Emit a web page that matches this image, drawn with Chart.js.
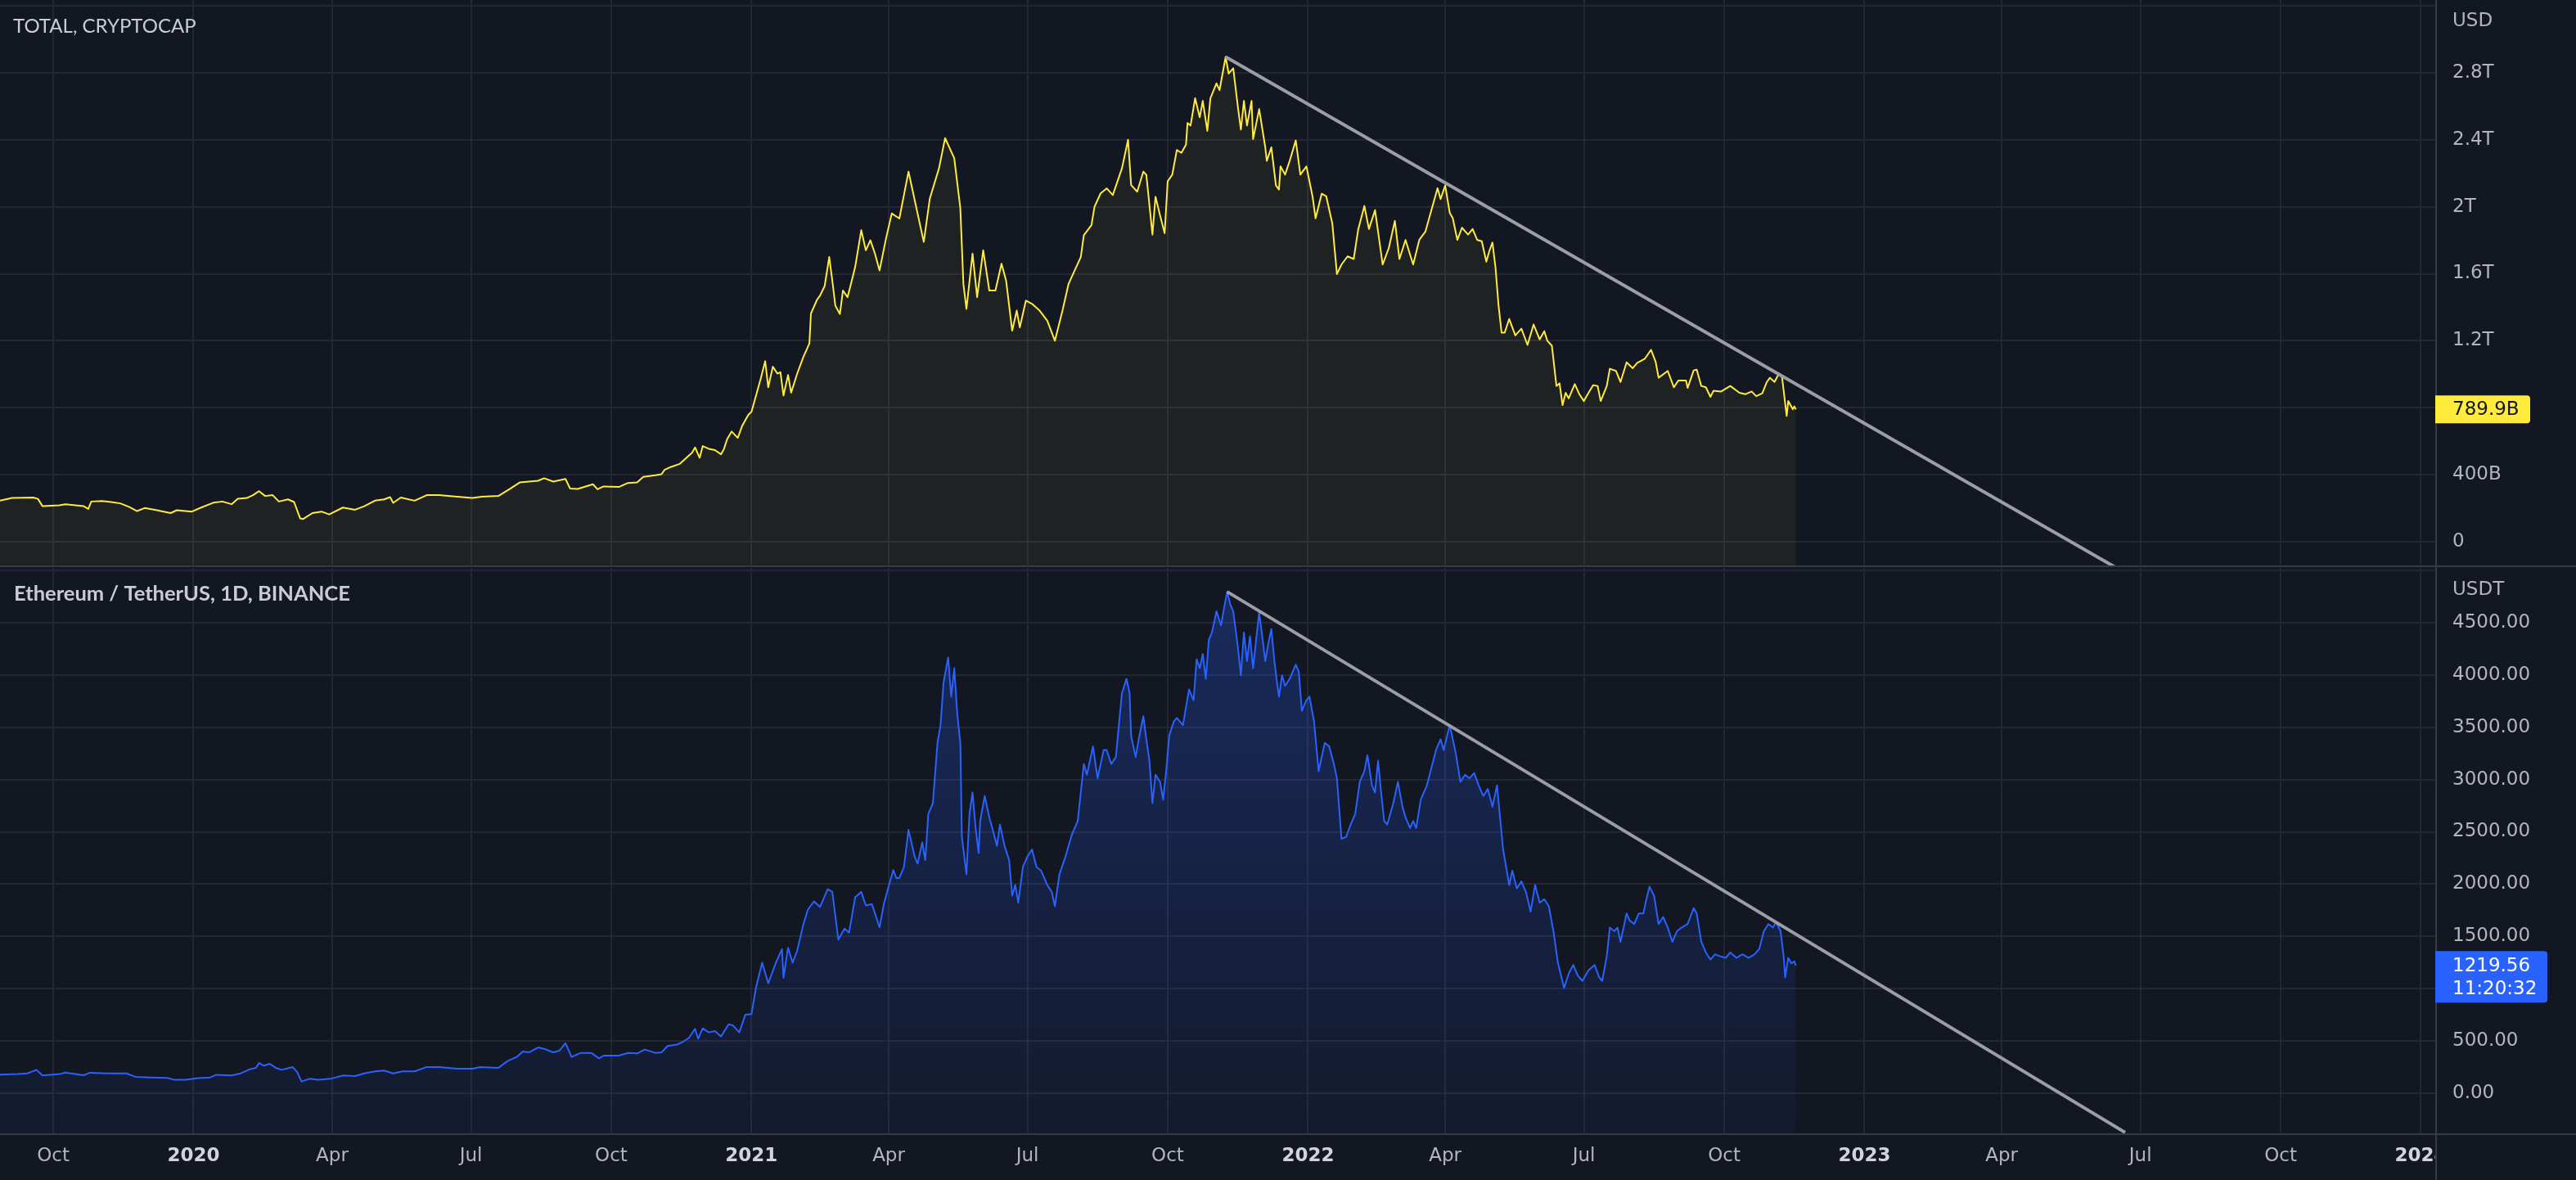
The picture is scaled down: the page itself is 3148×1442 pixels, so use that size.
<!DOCTYPE html>
<html>
<head>
<meta charset="utf-8">
<script src="https://cdn.jsdelivr.net/npm/chart.js@4.4.0/dist/chart.umd.min.js"></script>
<style>
  html, body { margin: 0; padding: 0; background: #131722; }
  #wrap { position: relative; width: 3148px; height: 1442px; overflow: hidden; background: #131722; }
  #c1 { position: absolute; left: 0; top: 0; }
  #c2 { position: absolute; left: 0; top: 693px; }
</style>
</head>
<body>
<div id="wrap">
  <canvas id="c1" width="3148" height="693"></canvas>
  <canvas id="c2" width="3148" height="749"></canvas>
</div>
<script>
// ---------------- DATA ----------------
// time is expressed in days since EPOCH
const EPOCH = '2019-10-01';
const viewStartDay = -34.9;   // left edge of the visible window (late Aug 2019)
const viewEndDay = 1562.4;    // right edge of the visible window (mid Jan 2024)

// TOTAL crypto market cap (billions USD)
const capDays = [
  -35,-27,-13,-10,-7,4,8,20,23,25,
  32,38,44,50,55,60,68,77,81,91,
  97,105,111,117,121,127,131,135,139,144,
  148,154,158,162,164,170,176,181,190,198,
  204,211,217,221,223,228,237,245,253,265,
  275,281,292,300,306,312,318,322,328,336,
  339,344,354,357,361,371,377,383,387,395,
  399,401,405,411,415,419,421,424,426,430,
  434,438,440,442,445,449,452,456,458,461,
  464,467,469,472,475,477,479,482,484,488,
  492,496,497,501,503,506,509,511,513,516,
  518,521,523,526,530,533,536,539,542,546,
  550,555,561,571,575,581,585,591,595,597,
  599,603,606,610,614,618,622,625,629,632,
  634,638,642,647,652,657,662,666,670,674,
  676,681,683,687,691,695,701,705,707,711,
  715,717,721,723,726,729,731,734,737,740,
  743,744,746,749,752,754,757,759,763,765,
  769,771,774,777,779,781,783,786,787,791,
  795,796,799,802,804,805,808,811,815,818,
  822,826,828,832,835,839,842,845,849,853,
  856,860,863,867,870,872,876,880,883,887,
  892,896,900,904,908,910,913,916,918,921,
  924,928,931,934,937,940,942,944,946,948,
  950,952,955,959,963,967,971,975,978,980,
  983,986,988,990,992,994,998,1001,1004,1006,
  1010,1013,1015,1019,1021,1025,1028,1032,1036,1039,
  1044,1048,1051,1053,1059,1063,1066,1071,1072,1076,
  1078,1081,1084,1087,1089,1094,1100,1106,1110,1114,
  1117,1121,1124,1126,1129,1132,1134,1137,1138,1141,
  1142,1143
];
const capValues = [
  245,261,264,256,212,217,224,212,196,240,
  243,237,229,207,183,201,188,171,188,180,
  204,233,240,224,256,261,278,302,273,278,
  240,253,237,139,136,171,180,163,204,191,
  212,245,253,266,232,264,245,278,278,269,
  261,269,273,318,354,359,364,379,359,375,
  318,315,343,313,330,327,351,354,387,397,
  403,429,446,465,498,531,563,501,571,555,
  547,522,555,612,658,620,694,759,776,873,
  971,1078,922,1045,1004,1012,873,996,890,1004,
  1102,1184,1363,1445,1470,1527,1700,1560,1410,1360,
  1500,1460,1530,1640,1860,1740,1800,1720,1620,1800,
  1960,1930,2210,1790,2050,2230,2410,2290,1990,1540,
  1390,1720,1460,1740,1500,1500,1660,1560,1260,1380,
  1280,1440,1420,1380,1320,1200,1380,1540,1620,1700,
  1830,1890,2000,2080,2110,2070,2230,2400,2130,2090,
  2210,2190,1834,2060,1948,1842,2152,2192,2339,2322,
  2371,2500,2485,2648,2534,2632,2453,2648,2737,2696,
  2895,2795,2827,2599,2461,2632,2485,2632,2404,2583,
  2355,2274,2355,2127,2103,2241,2192,2274,2396,2192,
  2241,2062,1931,2078,2062,1899,1598,1655,1704,1688,
  1867,2005,1867,1980,1785,1655,1753,1916,1688,1802,
  1655,1802,1851,1981,2111,2046,2127,1964,1931,1802,
  1875,1834,1867,1802,1794,1672,1737,1786,1639,1411,
  1248,1248,1330,1232,1272,1175,1297,1208,1257,1200,
  1170,930,946,816,889,856,941,881,840,873,
  935,930,840,930,1033,1020,954,1071,1036,1068,
  1093,1146,1076,979,1020,922,963,963,918,1023,
  1027,930,922,865,902,897,930,889,881,897,
  869,886,954,979,954,1005,979,751,840,791,
  808,789.9
];

// ETH / USDT daily close (USDT)
const ethDays = [
  -35,-23,-17,-11,-7,4,8,20,24,36,
  48,54,64,75,79,87,95,103,107,117,
  123,129,133,135,138,142,146,150,157,160,
  162,163,168,174,182,190,198,204,211,217,
  223,229,237,245,253,265,275,280,292,298,
  304,308,312,318,322,328,332,336,340,346,
  353,358,361,371,377,383,388,395,399,403,
  409,413,417,421,423,426,430,434,438,443,
  446,450,454,458,461,465,469,474,478,479,
  482,485,488,492,495,499,503,508,511,515,
  519,522,526,530,533,537,542,545,549,551,
  553,555,558,561,565,567,570,572,574,577,
  580,582,584,587,589,591,593,595,596,599,
  601,603,605,607,608,611,614,616,619,621,
  624,627,629,631,633,636,639,642,645,648,
  652,655,657,660,664,668,672,676,678,682,
  685,689,691,694,697,701,704,706,707,710,
  712,715,717,719,721,723,726,728,730,732,
  735,737,741,743,745,748,750,752,754,756,
  758,760,763,766,768,770,772,774,777,779,
  781,783,785,787,789,791,793,795,797,799,
  801,803,804,806,808,811,812,815,817,819,
  822,824,827,830,834,837,840,842,845,848,
  851,854,857,860,862,865,867,869,871,873,
  875,879,882,885,887,890,892,894,897,901,
  904,907,910,912,916,918,920,923,926,929,
  932,935,938,941,944,947,949,951,953,955,
  957,960,963,966,969,972,975,978,981,984,
  987,991,994,997,1000,1003,1007,1011,1014,1016,
  1019,1021,1024,1026,1028,1032,1034,1037,1040,1043,
  1045,1047,1050,1053,1056,1059,1062,1065,1068,1072,
  1076,1078,1081,1084,1087,1090,1093,1097,1100,1104,
  1108,1112,1116,1119,1122,1125,1128,1130,1133,1135,
  1136,1138,1140,1142,1143
];
const ethValues = [
  177,183,190,224,170,183,198,172,196,190,
  190,157,151,146,130,130,144,151,177,170,
  190,230,243,290,264,282,243,224,251,204,
  138,112,138,130,138,170,164,190,209,217,
  190,209,209,251,251,235,235,251,243,308,
  347,399,391,438,425,391,407,478,347,386,
  386,334,360,360,386,381,418,386,391,452,
  465,491,530,616,522,621,582,595,543,660,
  647,582,752,757,1013,1248,1052,1248,1378,1104,
  1391,1248,1365,1613,1757,1835,1783,1952,1926,1469,
  1574,1535,1874,1926,1796,1809,1587,1822,2031,2135,
  2057,2060,2162,2519,2264,2196,2400,2230,2672,2774,
  3351,3521,3929,4167,3793,4065,3623,3351,2451,2094,
  2672,2876,2536,2298,2604,2842,2638,2536,2366,2570,
  2366,2230,1890,1992,1822,2162,2264,2332,2162,2128,
  1992,1924,1788,2094,2264,2468,2604,3148,3046,3317,
  3012,3283,3283,3148,3215,3827,3963,3827,3419,3215,
  3385,3606,3385,3181,2774,3046,2978,2808,3080,3419,
  3555,3589,3521,3691,3861,3759,4150,4065,4201,3963,
  4337,4405,4609,4473,4643,4796,4677,4609,4269,3997,
  4405,4133,4371,4065,4337,4600,4371,4133,4303,4439,
  4133,3895,3793,3997,3895,3963,3997,4099,4031,3657,
  3759,3793,3555,3080,3351,3317,3148,3012,2434,2451,
  2570,2672,2978,3080,3232,2944,2876,3181,2876,2604,
  2570,2774,2978,2740,2638,2536,2604,2536,2808,2944,
  3113,3283,3385,3283,3521,3385,3249,2978,3046,3012,
  3063,2944,2842,2910,2740,2944,2638,2332,2162,1992,
  2128,1958,2026,1924,1737,1992,1822,1856,1788,1550,
  1244,1006,1142,1227,1125,1074,1176,1227,1108,1074,
  1312,1584,1550,1584,1448,1720,1652,1618,1720,1720,
  1856,1975,1890,1618,1686,1584,1448,1550,1584,1618,
  1771,1720,1448,1346,1278,1329,1312,1295,1346,1295,
  1329,1295,1329,1380,1550,1618,1584,1635,1550,1312,
  1108,1295,1244,1261,1219.56
];

// descending trend lines (two anchor points each)
const capTrendDays = [769, 1354];
const capTrendValues = [2895, -160];
const ethTrendDays = [770, 1359];
const ethTrendValues = [4796, -375];

// axes
const capTicks = [0, 400, 800, 1200, 1600, 2000, 2400, 2800, 3200];
const capRange = [-146.6, 3234.5];
const ethTicks = [0, 500, 1000, 1500, 2000, 2500, 3000, 3500, 4000, 4500, 5000];
const ethRange = [-383.5, 5024];
const xTickDates = ['2019-10-01','2020-01-01','2020-04-01','2020-07-01','2020-10-01',
  '2021-01-01','2021-04-01','2021-07-01','2021-10-01','2022-01-01','2022-04-01',
  '2022-07-01','2022-10-01','2023-01-01','2023-04-01','2023-07-01','2023-10-01','2024-01-01'];
const xTickLabels = ['Oct','2020','Apr','Jul','Oct','2021','Apr','Jul','Oct','2022',
  'Apr','Jul','Oct','2023','Apr','Jul','Oct','2024'];

const capTitle = 'TOTAL, CRYPTOCAP';
const ethTitle = 'Ethereum / TetherUS, 1D, BINANCE';
const capUnit = 'USD';
const ethUnit = 'USDT';
const ethCountdown = '11:20:32';

// ---------------- STYLE ----------------
const BG = '#131722';
const GRID = '#232733';
const BORDER = '#363a45';
const TXT = '#b2b5be';
const YELLOW = '#ffeb3b';
const BLUE = '#2962ff';
const TREND = '#9b9ea6';
const AXIS_FONT = 'DejaVu Sans';
const AXIS_W = 172;

const dayOf = s => (Date.parse(s) - Date.parse(EPOCH)) / 864e5;
const xTickDays = xTickDates.map(dayOf);
const pts = (xs, ys) => xs.map((x, i) => ({ x: x, y: ys[i] }));

function xScale(showLabels, h) {
  return {
    type: 'linear', min: viewStartDay, max: viewEndDay,
    afterBuildTicks: s => { s.ticks = xTickDays.map(v => ({ value: v })); },
    afterFit: s => { s.height = h; s.paddingLeft = 0; s.paddingRight = 0; },
    grid: { color: GRID, lineWidth: 2, drawTicks: false },
    border: { display: false },
    ticks: {
      display: showLabels, autoSkip: false, maxRotation: 0, padding: 14,
      callback: (v, i) => xTickLabels[i],
      font: ctx => ({ family: AXIS_FONT, size: 23, weight: /^\d{4}$/.test(xTickLabels[ctx.index]) ? 'bold' : 'normal' }),
      color: ctx => /^\d{4}$/.test(xTickLabels[ctx.index]) ? '#d1d4dc' : TXT
    }
  };
}
function yScale(range, ticks, fmt) {
  return {
    position: 'right', min: range[0], max: range[1],
    afterBuildTicks: s => { s.ticks = ticks.map(v => ({ value: v })); },
    afterFit: s => { s.width = AXIS_W; s.paddingTop = 0; s.paddingBottom = 0; },
    grid: { color: GRID, lineWidth: 2, drawTicks: false },
    border: { display: false },
    ticks: { padding: 21, color: TXT, font: { family: AXIS_FONT, size: 23 }, autoSkip: false, callback: fmt }
  };
}

function roundRight(c, x, y, w, h, r) {
  c.beginPath();
  c.moveTo(x, y); c.lineTo(x + w - r, y); c.quadraticCurveTo(x + w, y, x + w, y + r);
  c.lineTo(x + w, y + h - r); c.quadraticCurveTo(x + w, y + h, x + w - r, y + h);
  c.lineTo(x, y + h); c.closePath(); c.fill();
}

const overlayTop = {
  id: 'overlayTop',
  afterDraw(chart) {
    const c = chart.ctx, W = chart.width, H = chart.height, ca = chart.chartArea;
    c.save();
    c.fillStyle = BORDER;
    c.fillRect(0, H - 2, W, 2);
    c.fillRect(ca.right, 0, 2, H);
    c.font = '24px Lato'; c.fillStyle = '#c9ccd4'; c.textBaseline = 'alphabetic'; c.textAlign = 'left';
    c.fillText(capTitle, 16, 40);
    c.font = '23px "' + AXIS_FONT + '"'; c.fillStyle = TXT; c.textBaseline = 'middle';
    c.fillText(capUnit, ca.right + 21, 26);
    const last = capValues[capValues.length - 1];
    const y = chart.scales.y.getPixelForValue(last);
    c.fillStyle = YELLOW;
    roundRight(c, ca.right, y - 17, 116, 34, 4);
    c.fillStyle = '#131722';
    c.fillText(last.toFixed(1) + 'B', ca.right + 21, y + 1);
    c.restore();
  }
};

const overlayBottom = {
  id: 'overlayBottom',
  afterDraw(chart) {
    const c = chart.ctx, W = chart.width, H = chart.height, ca = chart.chartArea;
    c.save();
    c.fillStyle = BG;
    c.fillRect(ca.right + 2, ca.bottom, W - ca.right, H - ca.bottom);
    c.fillStyle = BORDER;
    c.fillRect(0, ca.bottom, W, 2);
    c.fillRect(ca.right, 0, 2, H);
    c.font = 'bold 25.5px Lato'; c.fillStyle = '#c9ccd4'; c.textBaseline = 'alphabetic'; c.textAlign = 'left';
    c.fillText(ethTitle, 17, 41);
    c.font = '23px "' + AXIS_FONT + '"'; c.fillStyle = TXT; c.textBaseline = 'middle';
    c.fillText(ethUnit, ca.right + 21, 28);
    const last = ethValues[ethValues.length - 1];
    const y = chart.scales.y.getPixelForValue(last);
    c.fillStyle = BLUE;
    roundRight(c, ca.right, y - 18, 137, 63, 4);
    c.fillStyle = '#ffffff';
    c.fillText(last.toFixed(2), ca.right + 21, y + 1);
    c.fillText(ethCountdown, ca.right + 21, y + 29);
    c.restore();
  }
};

const baseOpts = {
  responsive: false, animation: false, devicePixelRatio: 1,
  events: [],
  plugins: { legend: { display: false }, tooltip: { enabled: false } },
  elements: { point: { radius: 0 }, line: { tension: 0, borderJoinStyle: 'round' } }
};

new Chart(document.getElementById('c1'), {
  type: 'line',
  data: {
    datasets: [
      { data: pts(capTrendDays, capTrendValues), borderColor: TREND, borderWidth: 4, fill: false, pointRadius: 0 },
      { data: pts(capDays, capValues), borderColor: YELLOW, borderWidth: 2, pointRadius: 0,
        fill: 'start', backgroundColor: 'rgba(255,235,59,0.055)' }
    ]
  },
  options: Object.assign({}, baseOpts, {
    layout: { padding: 0 },
    scales: {
      x: xScale(false, 1),
      y: yScale(capRange, capTicks, v => v === 3200 ? '' : v === 0 ? '0' : v >= 1000 ? (v / 1000) + 'T' : v + 'B')
    }
  }),
  plugins: [overlayTop]
});

new Chart(document.getElementById('c2'), {
  type: 'line',
  data: {
    datasets: [
      { data: pts(ethTrendDays, ethTrendValues), borderColor: TREND, borderWidth: 4, fill: false, pointRadius: 0 },
      { data: pts(ethDays, ethValues), borderColor: BLUE, borderWidth: 2, pointRadius: 0,
        fill: 'start',
        backgroundColor: ctx => {
          const ch = ctx.chart, ca = ch.chartArea;
          if (!ca) return 'rgba(41,98,255,0.15)';
          const g = ch.ctx.createLinearGradient(0, ca.top, 0, ca.bottom);
          g.addColorStop(0, 'rgba(41,98,255,0.28)');
          g.addColorStop(1, 'rgba(41,98,255,0.05)');
          return g;
        } }
    ]
  },
  options: Object.assign({}, baseOpts, {
    layout: { padding: { top: 1, left: 0, right: 0, bottom: 0 } },
    scales: {
      x: xScale(true, 57),
      y: yScale(ethRange, ethTicks, v => v === 5000 ? '' : v.toFixed(2))
    }
  }),
  plugins: [overlayBottom]
});
</script>
</body>
</html>
